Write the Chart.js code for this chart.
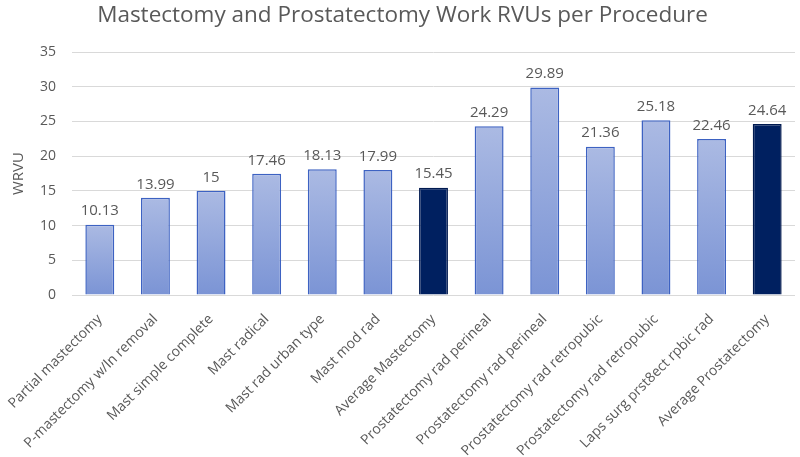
<!DOCTYPE html>
<html>
<head>
<meta charset="utf-8">
<script src="https://cdn.jsdelivr.net/npm/chart.js@4/dist/chart.umd.min.js"></script>
<style>
html,body{margin:0;padding:0;background:#fff;}
#wrap{width:800px;height:457px;position:relative;}
</style>
</head>
<body>
<div id="wrap"><canvas id="c" width="800" height="457"></canvas></div>
<script>
const categories = [
  "Partial mastectomy",
  "P-mastectomy w/ln removal",
  "Mast simple complete",
  "Mast radical",
  "Mast rad urban type",
  "Mast mod rad",
  "Average Mastectomy",
  "Prostatectomy rad perineal",
  "Prostatectomy rad perineal",
  "Prostatectomy rad retropubic",
  "Prostatectomy rad retropubic",
  "Laps surg prst8ect rpbic rad",
  "Average Prostatectomy"
];
const wrvuValues = [10.13, 13.99, 15, 17.46, 18.13, 17.99, 15.45, 24.29, 29.89, 21.36, 25.18, 22.46, 24.64];
const isAverage = [false, false, false, false, false, false, true, false, false, false, false, false, true];
const valueLabels = ["10.13", "13.99", "15", "17.46", "18.13", "17.99", "15.45", "24.29", "29.89", "21.36", "25.18", "22.46", "24.64"];
const yTicks = [0, 5, 10, 15, 20, 25, 30, 35];

const FONT = "'Open Sans', 'Liberation Sans', sans-serif";
const GREY = "#595959";

const labelPlugin = {
  id: 'valueLabels',
  afterDatasetsDraw(chart) {
    const ctx = chart.ctx;
    const meta = chart.getDatasetMeta(0);
    ctx.save();
    ctx.font = "15px " + FONT;
    ctx.fillStyle = GREY;
    ctx.textAlign = 'center';
    ctx.textBaseline = 'bottom';
    meta.data.forEach((bar, i) => {
      ctx.fillText(valueLabels[i], bar.x, bar.y - 6);
    });
    ctx.restore();
  }
};

function barFill(context) {
  const i = context.dataIndex;
  if (isAverage[i]) return "#002060";
  const chart = context.chart;
  const area = chart.chartArea;
  const ys = chart.scales.y;
  if (!area || !ys) return "#95a8dc";
  const top = ys.getPixelForValue(wrvuValues[i]);
  const bottom = ys.getPixelForValue(0);
  const g = chart.ctx.createLinearGradient(0, top, 0, bottom);
  g.addColorStop(0, "#abbae3");
  g.addColorStop(1, "#7b94d5");
  return g;
}

new Chart(document.getElementById('c'), {
  type: 'bar',
  data: {
    labels: categories,
    datasets: [{
      data: wrvuValues,
      backgroundColor: barFill,
      borderColor: (c) => isAverage[c.dataIndex] ? "#001a50" : "#3d62c2",
      borderWidth: 1.5,
      categoryPercentage: 1,
      barPercentage: 0.52
    }]
  },
  options: {
    responsive: false,
    animation: false,
    devicePixelRatio: 1,
    layout: { padding: { left: 10, right: 5, top: 0, bottom: 0 } },
    plugins: {
      legend: { display: false },
      tooltip: { enabled: false },
      title: {
        display: true,
        text: "Mastectomy and Prostatectomy Work RVUs per Procedure",
        color: GREY,
        font: { family: FONT, size: 22.5, weight: 'normal' },
        padding: { top: 2, bottom: 23 }
      }
    },
    scales: {
      x: {
        grid: { display: false, drawTicks: false },
        border: { display: false },
        afterFit: (axis) => { axis.paddingLeft = 0; axis.paddingRight = 0; axis.height = 162; },
        ticks: {
          color: GREY,
          font: { family: FONT, size: 14 },
          maxRotation: 45,
          minRotation: 45,
          autoSkip: false,
          padding: 16
        }
      },
      y: {
        min: 0,
        max: 35,
        afterBuildTicks: (axis) => { axis.ticks = yTicks.map(v => ({ value: v })); },
        afterFit: (axis) => { axis.width = 62; },
        grid: { color: "#d9d9d9", lineWidth: 1, drawTicks: false },
        border: { display: false },
        ticks: { color: GREY, font: { family: FONT, size: 14 }, padding: 16 },
        title: {
          display: true,
          text: "WRVU",
          color: GREY,
          font: { family: FONT, size: 15 },
          padding: { top: 0, bottom: 0 }
        }
      }
    }
  },
  plugins: [labelPlugin]
});
</script>
</body>
</html>
